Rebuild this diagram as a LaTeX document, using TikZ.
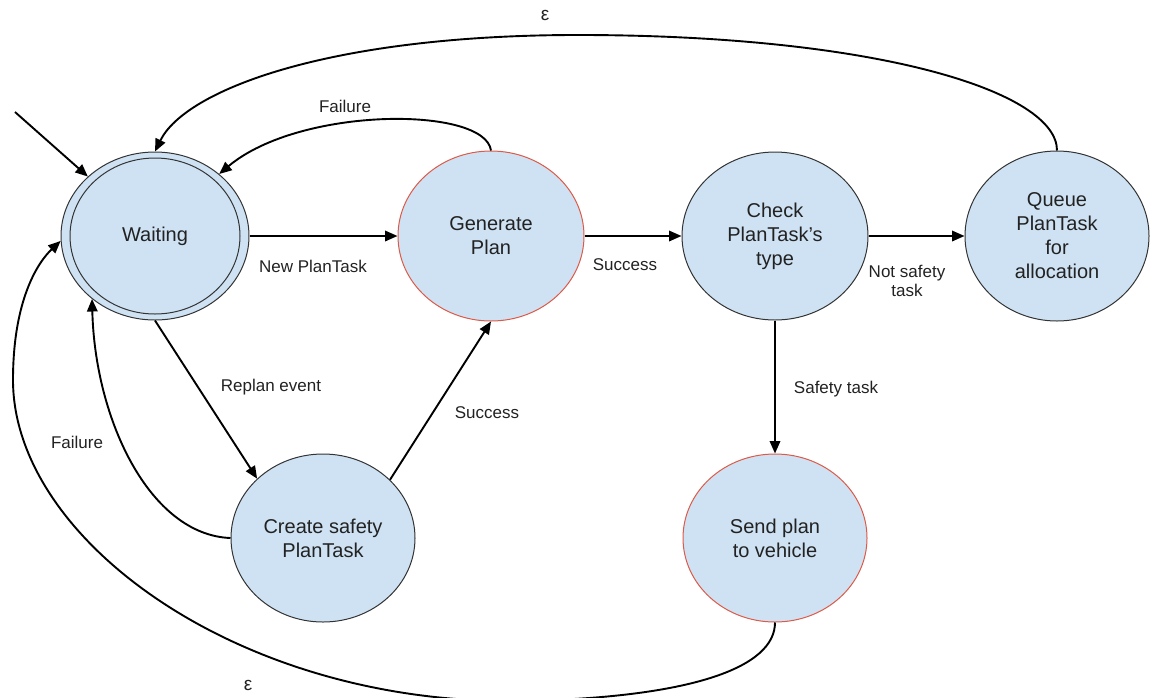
\documentclass[tikz,border=0pt]{standalone}
\usepackage{fontspec}
\setmainfont{Liberation Sans}
\usetikzlibrary{shapes.geometric,arrows.meta}
\definecolor{statefill}{HTML}{CFE2F3}
\definecolor{redline}{HTML}{DD5A48}
\definecolor{ink}{HTML}{222222}
\begin{document}
\begin{tikzpicture}[x=1pt,y=-1pt,
  state/.style={ellipse, draw=black!80, line width=1pt, fill=statefill, inner sep=0pt,
    align=center, font=\fontsize{20}{24}\selectfont, text=ink},
  hot/.style={state, draw=redline},
  edge/.style={line width=1.9pt, -{Triangle[length=12.5pt,width=10.5pt]}},
  lbl/.style={font=\fontsize{17}{19.5}\selectfont, text=ink, align=center, inner sep=0pt},
  eps/.style={font=\fontsize{19}{22}\selectfont, text=ink, inner sep=0pt}]

\useasboundingbox (0,0) rectangle (1150,697);

% states
\node[state, minimum width=188pt, minimum height=168pt] (W) at (155,236) {Waiting};
\draw[black!80, line width=1pt] (W.center) ellipse [x radius=85, y radius=78];
\node[hot, minimum width=186pt, minimum height=170pt] (G) at (491,236) {Generate\\Plan};
\node[state, minimum width=186pt, minimum height=168pt] (C) at (775,236) {Check\\PlanTask’s\\type};
\node[state, minimum width=184pt, minimum height=170pt] (Q) at (1057,236) {Queue\\PlanTask\\for\\allocation};
\node[state, minimum width=184pt, minimum height=168pt] (S) at (323,538) {Create safety\\PlanTask};
\node[hot, minimum width=184pt, minimum height=168pt] (V) at (775,538) {Send plan\\to vehicle};

% initial transition
\coordinate (init) at (15,112);
\draw[edge] (init) -- (W);

% straight transitions
\draw[edge] (W.east) -- (G.west);
\draw[edge] (G.east) -- (C.west);
\draw[edge] (C.east) -- (Q.west);
\draw[edge] (C.south) -- (V.north);
\draw[edge] (W.south) -- (S.138);
\draw[edge] (S.41) -- (G.south);

% curved transitions
\draw[edge] (Q.north) .. controls (1057,92) and (880,36) .. (585,35)
  .. controls (330,34) and (185,90) .. (W.north);
\draw[edge] (G.north) .. controls (485,106) and (300,106) .. (W.44);
\draw[edge] (S.west) .. controls (150,535) and (95,420) .. (W.225);
\draw[edge] (V.south) .. controls (775,668) and (690,698) .. (520,701)
  .. controls (240,705) and (13,540) .. (13,380)
  .. controls (13,300) and (38,262) .. (W.183);

% transition labels
\node[eps] (e1) at (545,15) {ε};
\node[lbl] (l1) at (345,106) {Failure};
\node[lbl] (l2) at (313,266) {New PlanTask};
\node[lbl] (l3) at (625,265) {Success};
\node[lbl] (l4) at (907,281) {Not safety\\task};
\node[lbl] (l5) at (836,389) {Safety task};
\node[lbl] (l6) at (271,387) {Replan event};
\node[lbl] (l7) at (487,413) {Success};
\node[lbl] (l8) at (77,442) {Failure};
\node[eps] (e2) at (248,685) {ε};
\end{tikzpicture}
\end{document}
